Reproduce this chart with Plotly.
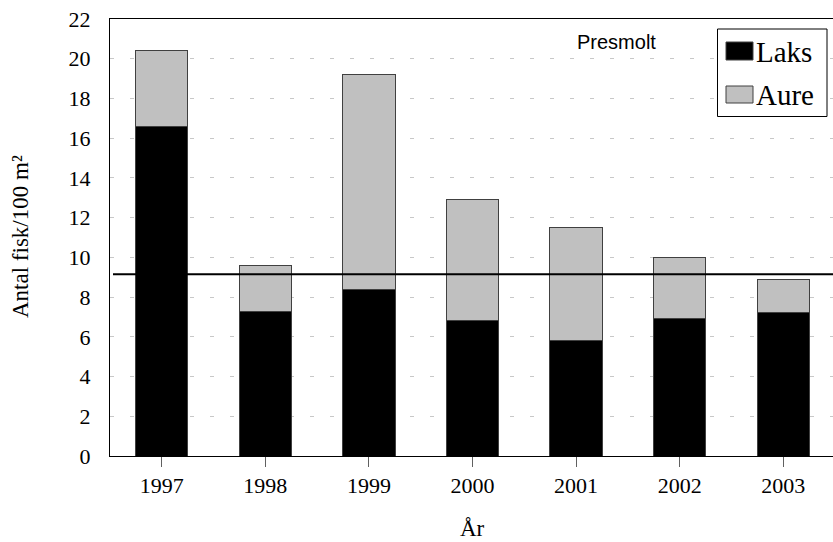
import plotly.graph_objects as go

years = ["1997", "1998", "1999", "2000", "2001", "2002", "2003"]
laks = [16.6, 7.3, 8.4, 6.8, 5.8, 6.9, 7.2]
totals = [20.4, 9.6, 19.2, 12.9, 11.5, 10.0, 8.9]
aure = [round(t - l, 2) for t, l in zip(totals, laks)]
ref_level = 9.15
y_ticks = list(range(0, 23, 2))

W, H = 835, 542
ML, MR, MT, MB = 110, 0, 19, 86
serif = "Liberation Serif, Times New Roman, serif"

fig = go.Figure()
fig.add_trace(go.Bar(x=years, y=laks, name="Laks", marker=dict(color="#000000", line=dict(color="#404040", width=1)), width=0.505, showlegend=False))
fig.add_trace(go.Bar(x=years, y=aure, name="Aure", marker=dict(color="#C0C0C0", line=dict(color="#404040", width=1)), width=0.505, showlegend=False))

pw = W - ML - MR
ph = H - MT - MB
def px(x): return (x - ML) / pw
def py(y): return 1 - (y - MT) / ph

shapes = [
    dict(type="line", xref="paper", yref="y", x0=px(113), x1=1.0, y0=ref_level, y1=ref_level,
         line=dict(color="black", width=2.2)),
    dict(type="rect", xref="paper", yref="paper", x0=px(717.5), x1=px(827), y0=py(29), y1=py(116.5),
         line=dict(color="black", width=1), fillcolor="white"),
    dict(type="rect", xref="paper", yref="paper", x0=px(726), x1=px(753), y0=py(42), y1=py(60),
         line=dict(color="#404040", width=1), fillcolor="#000000"),
    dict(type="rect", xref="paper", yref="paper", x0=px(726), x1=px(753), y0=py(86), y1=py(103),
         line=dict(color="#404040", width=1), fillcolor="#C0C0C0"),
]
annotations = [
    dict(text="Laks", xref="paper", yref="paper", x=px(754), y=py(52), xanchor="left", yanchor="middle",
         showarrow=False, font=dict(family=serif, size=29, color="black")),
    dict(text="Aure", xref="paper", yref="paper", x=px(754), y=py(95), xanchor="left", yanchor="middle",
         showarrow=False, font=dict(family=serif, size=29, color="black")),
    dict(text="Presmolt", xref="paper", yref="paper", x=px(616), y=py(42), xanchor="center", yanchor="middle",
         showarrow=False, font=dict(family="Liberation Sans, Arial, sans-serif", size=20, color="black")),
    dict(text="År", xref="paper", yref="paper", x=px(472.5), y=py(528), xanchor="center", yanchor="middle",
         showarrow=False, font=dict(family=serif, size=23, color="black")),
    dict(text="Antal fisk/100 m²", xref="paper", yref="paper", x=px(21), y=py(237), xanchor="center", yanchor="middle",
         textangle=-90, showarrow=False, font=dict(family=serif, size=23, color="black")),
]

fig.update_layout(
    width=W, height=H, barmode="stack", bargap=0.5,
    margin=dict(l=ML, r=MR, t=MT, b=MB, autoexpand=False),
    plot_bgcolor="white", paper_bgcolor="white",
    font=dict(family=serif, size=21, color="black"),
    shapes=shapes, annotations=annotations,
    xaxis=dict(type="category", range=[-0.5, 6.5], showline=True, linecolor="black", linewidth=1, mirror=True,
               ticks="outside", ticklen=10, tickcolor="#606060", tickwidth=1, showgrid=False,
               tickfont=dict(family=serif, size=22)),
    yaxis=dict(range=[0, 22], tickvals=y_ticks, showline=True, linecolor="black", linewidth=1, mirror=True,
               showgrid=True, gridcolor="#c8c8c8", griddash="4px,16px", gridwidth=1, zeroline=False,
               ticks="", ticklabelstandoff=14, tickfont=dict(family=serif, size=22)),
)
fig.write_html("out.html", config={"displayModeBar": False},
               post_script="document.body.style.margin='0';document.body.style.overflow='hidden';")
